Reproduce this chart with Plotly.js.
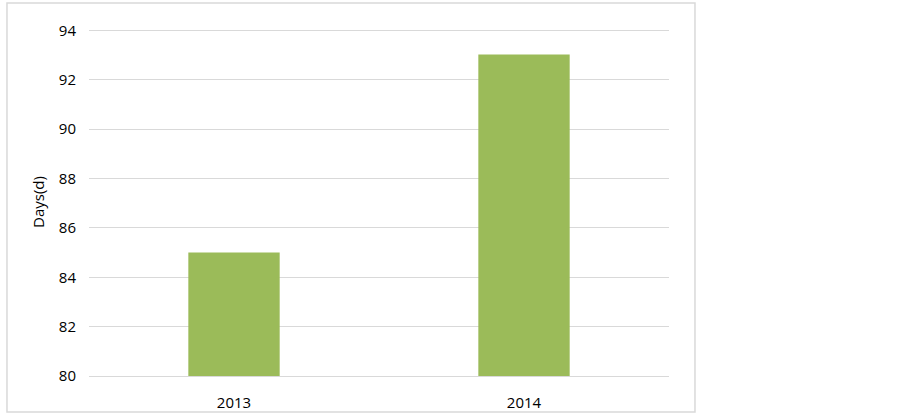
<!DOCTYPE html>
<html>
<head>
<meta charset="utf-8">
<script src="https://cdn.plot.ly/plotly-3.0.1.min.js"></script>
<style>
  html, body { margin: 0; padding: 0; background: #fff; }
  #chart { width: 903px; height: 414px; }
</style>
</head>
<body>
<div id="chart"></div>
<script>
// Data
var years = ['2013', '2014'];
var days = [85, 93.03];
var yTicks = [80, 82, 84, 86, 88, 90, 92, 94];

var data = [
  {
    x: years,
    y: days,
    type: 'bar',
    width: 0.315,
    marker: { color: '#9BBB59' },
    hoverinfo: 'x+y'
  }
];

var fnt = { family: 'Open Sans, Liberation Sans, sans-serif', size: 15, color: '#000' };

var layout = {
  width: 903,
  height: 414,
  margin: { l: 89, r: 234, t: 28, b: 38 },
  paper_bgcolor: '#fff',
  plot_bgcolor: '#fff',
  showlegend: false,
  font: fnt,
  xaxis: {
    type: 'category',
    showgrid: false,
    showline: true,
    linecolor: '#d9d9d9',
    linewidth: 1,
    ticks: '',
    ticklabelstandoff: 13,
    tickfont: fnt,
    fixedrange: true
  },
  yaxis: {
    range: [80, 94.1],
    tickvals: yTicks,
    showgrid: true,
    gridcolor: '#d9d9d9',
    gridwidth: 1,
    zeroline: false,
    showline: false,
    ticks: '',
    ticklabelstandoff: 12,
    tickfont: fnt,
    fixedrange: true
  },
  annotations: [
    {
      text: 'Days(d)',
      xref: 'paper', yref: 'paper',
      x: -0.088, y: 0.5,
      xanchor: 'center', yanchor: 'middle',
      textangle: -90,
      showarrow: false,
      font: fnt
    }
  ],
  shapes: [
    {
      // outer chart border
      type: 'rect',
      xref: 'paper', yref: 'paper',
      x0: -0.1414, x1: 1.0448,
      y0: -0.1034, y1: 1.0718,
      line: { color: '#d9d9d9', width: 1.5 },
      fillcolor: 'rgba(0,0,0,0)'
    }
  ]
};

Plotly.newPlot('chart', data, layout, { displayModeBar: false, staticPlot: true });
</script>
</body>
</html>
